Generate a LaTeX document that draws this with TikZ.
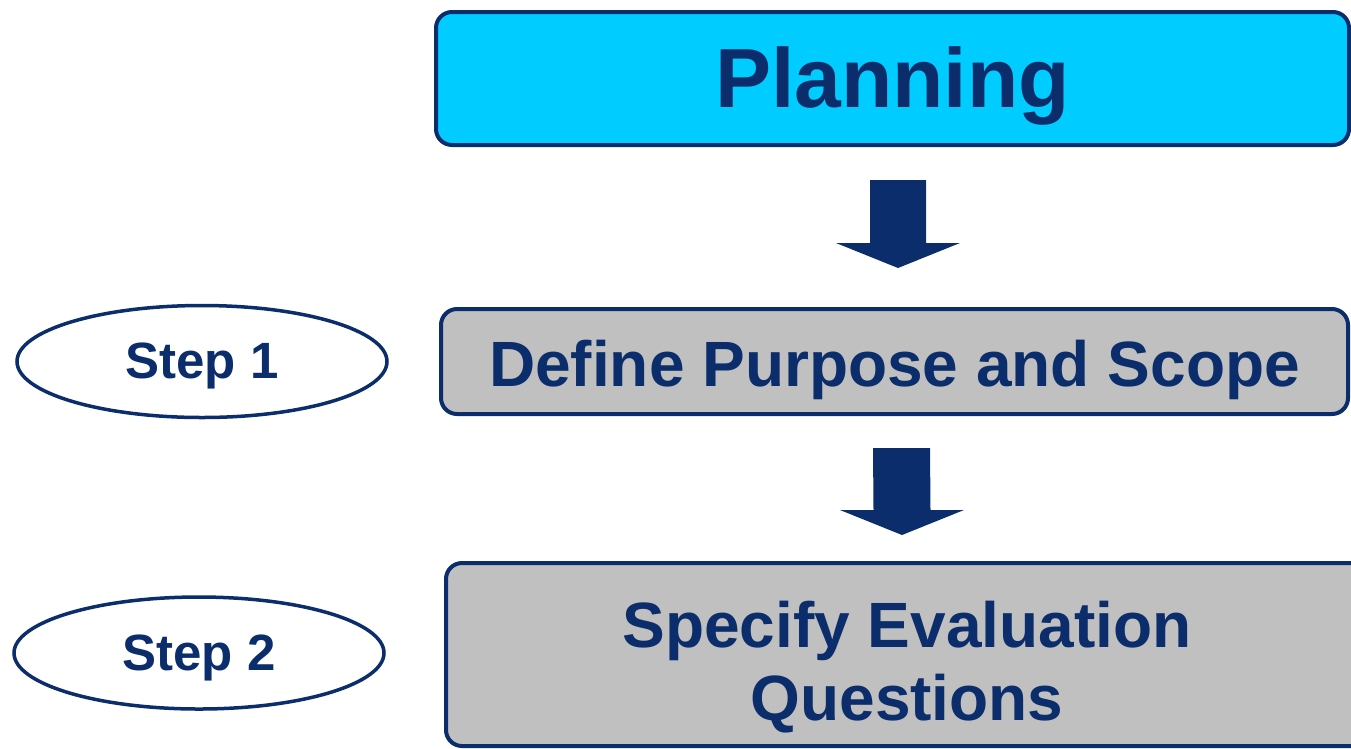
\documentclass[tikz,border=0pt]{standalone}
\usepackage{fontspec}
\setmainfont{Liberation Sans}
\usepackage{xcolor}
\usetikzlibrary{calc}
\usetikzlibrary{shapes.geometric}

\definecolor{navy}{RGB}{11,45,107}
\definecolor{planblue}{RGB}{0,204,255}
\definecolor{boxgray}{RGB}{192,192,192}

\begin{document}
\begin{tikzpicture}[x=1pt,y=-1pt,
	phasebox/.style={draw=navy,line width=4pt,rounded corners=16pt,text=navy,inner sep=0pt,align=center},
	steplabel/.style={draw=navy,line width=3.5pt,ellipse,fill=white,text=navy,inner sep=0pt,
		minimum width=370pt,minimum height=112pt,text height=45pt,text depth=10.7pt,
		font=\bfseries\fontsize{51}{56}\selectfont}]
	\useasboundingbox (0,0) rectangle (1351,748);
	
	\node[phasebox,fill=planblue,minimum width=913pt,minimum height=133pt,text height=75pt,text depth=17.6pt,
		font=\bfseries\fontsize{84}{90}\selectfont] (plan) at (892.5,78.5) {Planning};
	\node[phasebox,fill=boxgray,minimum width=907pt,minimum height=105pt,text height=62.7pt,text depth=13.4pt,
		font=\bfseries\fontsize{64}{70}\selectfont] (purpose) at (894.5,361.5) {Define Purpose and Scope};
	\node[phasebox,fill=boxgray,minimum width=922pt,minimum height=183pt,text height=136pt,text depth=4pt,
		font=\bfseries\fontsize{64}{73}\selectfont] (questions) at (907,654.5) {Specify Evaluation\\Questions};
	
	\node[steplabel] (step1) at (202,361.5) {Step 1};
	\node[steplabel] (step2) at (199,653) {Step 2};
	
	\coordinate (a1) at ([xshift=5.5pt,yshift=-33pt]plan.south);
	\coordinate (b1) at ([xshift=3.5pt,yshift=39pt]purpose.north);
	\coordinate (a2) at ([xshift=7pt,yshift=-32pt]purpose.south);
	\coordinate (b2) at ([xshift=-5pt,yshift=26pt]questions.north);
	
	\fill[navy] ($(a1)+(-28,0)$) -- ($(a1)+(28,0)$) -- ($(b1)+(28,-25)$) -- ($(b1)+(62,-25)$) -- (b1) -- ($(b1)+(-62,-25)$) -- ($(b1)+(-28,-25)$) -- cycle;
	\fill[navy] ($(a2)+(-28.5,0)$) -- ($(a2)+(28.5,0)$) -- ($(b2)+(28.5,-25)$) -- ($(b2)+(62,-25)$) -- (b2) -- ($(b2)+(-62,-25)$) -- ($(b2)+(-28.5,-25)$) -- cycle;
	
\end{tikzpicture}
\end{document}
